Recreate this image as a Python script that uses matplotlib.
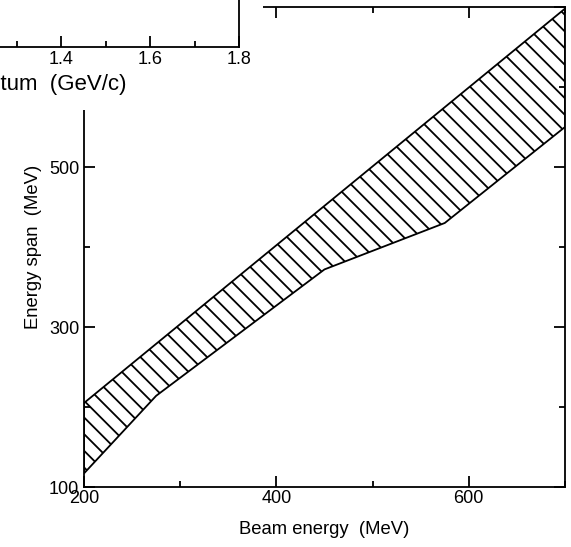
import matplotlib
matplotlib.use("Agg")
import matplotlib.pyplot as plt
from matplotlib.patches import Rectangle
from matplotlib.ticker import MultipleLocator

# energy span band: lower and upper edges (MeV)
lower_x = [200, 275, 450, 575, 700]
lower_y = [117, 214, 372, 430, 550]
upper_x = [200, 700]
upper_y = [205, 698]

x_ticks = [200, 400, 600]
y_ticks = [100, 300, 500, 700]
p_ticks = [1.0, 1.2, 1.4, 1.6, 1.8]

plt.rcParams['font.family'] = ['Liberation Sans', 'DejaVu Sans']
plt.rcParams['font.size'] = 11
plt.rcParams['hatch.linewidth'] = 1.3
plt.rcParams['hatch.color'] = 'black'

W, H = 571, 547
fig = plt.figure(figsize=(W / 100, H / 100), dpi=100)


def px_box(x0, y0, x1, y1):
    return [x0 / W, 1 - y1 / H, (x1 - x0) / W, (y1 - y0) / H]


def style(a):
    for s in a.spines.values():
        s.set_linewidth(1.3)
    a.tick_params(which='both', direction='in', top=True, right=True,
                  width=1.3, labelsize=13)
    a.tick_params(which='major', length=8)
    a.tick_params(which='minor', length=4.5)


# main panel
ax = fig.add_axes(px_box(84, 7, 565, 487))
band_x = lower_x + upper_x[::-1]
band_y = lower_y + upper_y[::-1]
ax.fill(band_x, band_y, facecolor='none', edgecolor='black',
        hatch='\\\\', linewidth=1.3)
ax.set_xlim(200, 700)
ax.set_ylim(100, 700)
ax.set_xticks(x_ticks)
ax.set_yticks(y_ticks)
ax.xaxis.set_minor_locator(MultipleLocator(100))
ax.yaxis.set_minor_locator(MultipleLocator(100))
style(ax)
ax.tick_params(axis='x', pad=2)
ax.set_xlabel('Beam energy  (MeV)', fontsize=13.3, labelpad=10)
ax.set_ylabel('Energy span  (MeV)', fontsize=13.3, labelpad=5)

# corner of the neighbouring panel overlapping this one
fig.add_artist(Rectangle((0, 1 - 110 / H), 263 / W, 110 / H,
                         transform=fig.transFigure, facecolor='white',
                         edgecolor='none', zorder=5))

ax2 = fig.add_axes(px_box(-206, -400, 239, 47), zorder=10)
ax2.set_facecolor('white')
ax2.set_xlim(0.8, 1.8)
ax2.set_ylim(0, 1)
ax2.set_xticks(p_ticks)
ax2.set_yticks([])
ax2.xaxis.set_minor_locator(MultipleLocator(0.1))
style(ax2)
ax2.tick_params(right=False, top=False, pad=3)
ax2.set_xlabel('Beam momentum  (GeV/c)', fontsize=16, ha='right')
ax2.xaxis.set_label_coords((127 + 206) / 445, -27 / 447)

fig.savefig('out.png', dpi=100)
